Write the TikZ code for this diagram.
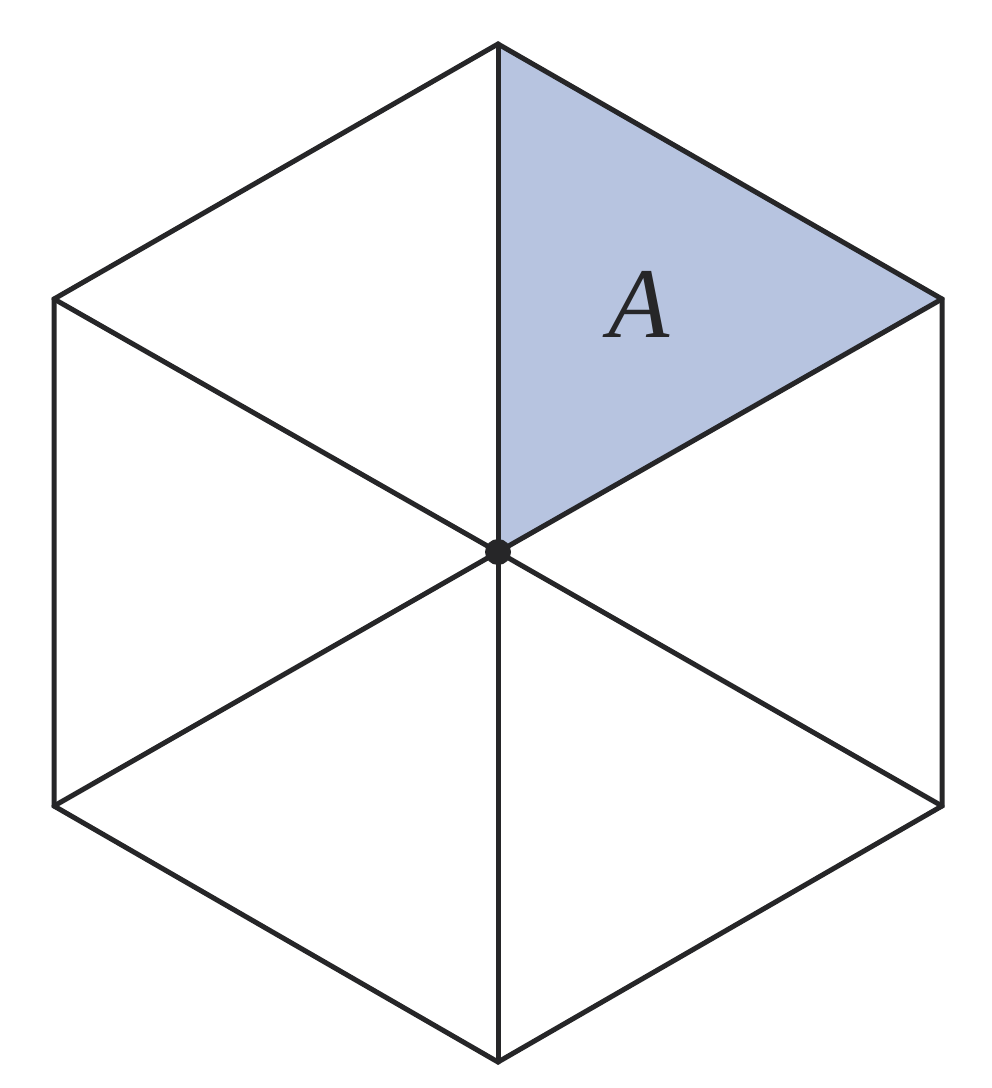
\documentclass[tikz,border=0pt]{standalone}
\usepackage{fontspec}
\setmainfont{Liberation Serif}
\definecolor{hexfill}{RGB}{183,196,224}
\definecolor{ink}{RGB}{38,38,40}
\begin{document}
\begin{tikzpicture}[x=0.02cm,y=-0.02cm,
  edge/.style={draw=ink,line width=0.1cm,line join=miter,line cap=round}]
\useasboundingbox (0,0) rectangle (991,1088);
\coordinate (O) at (498,552);
\coordinate (T) at (498,44);
\coordinate (UR) at (942,299);
\coordinate (LR) at (942,806);
\coordinate (B) at (498,1062);
\coordinate (LL) at (54,806);
\coordinate (UL) at (54,299);
\fill[fill=hexfill] (O) -- (T) -- (UR) -- cycle;
\draw[edge] (T) -- (UR) -- (LR) -- (B) -- (LL) -- (UL) -- cycle;
\foreach \v in {T,UR,LR,B,LL,UL} \draw[edge] (O) -- (\v);
\fill[ink] (O) circle[radius=0.26cm];
\node[text=ink,font=\fontsize{57}{60}\selectfont\itshape] (lab) at (639,304) {A};
\end{tikzpicture}
\end{document}
